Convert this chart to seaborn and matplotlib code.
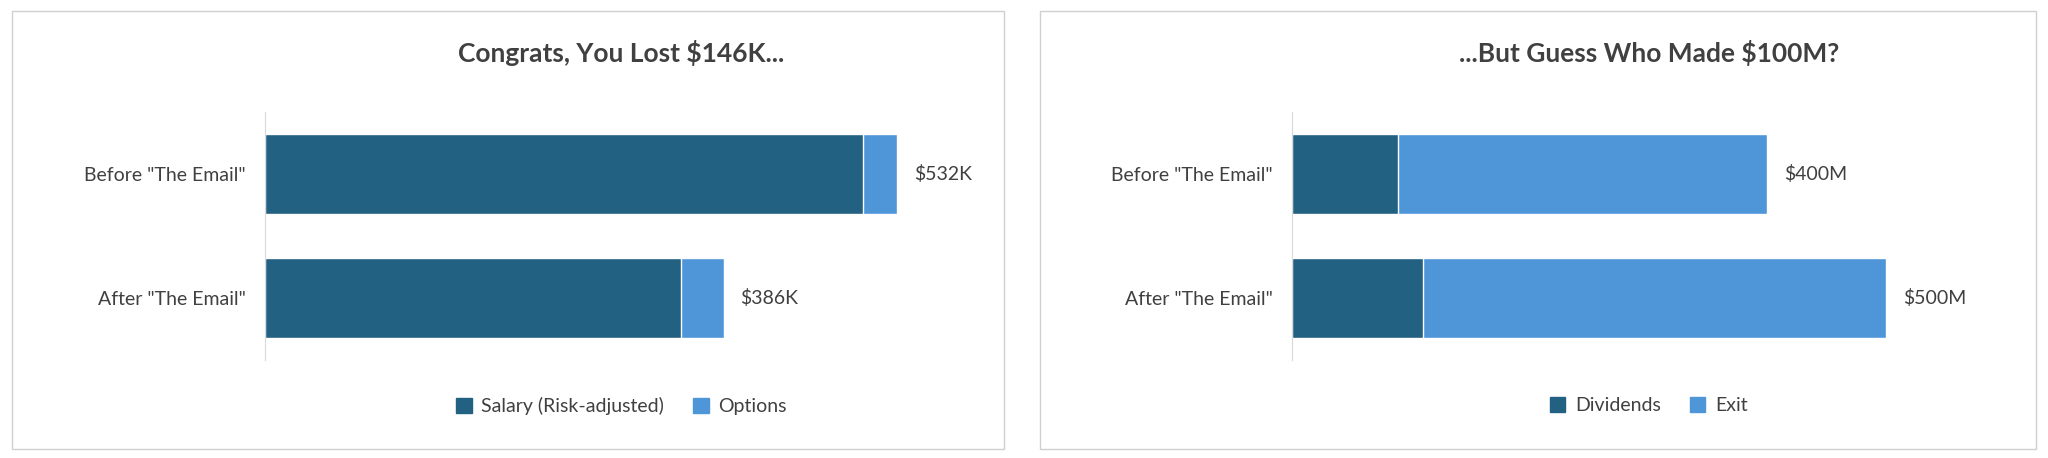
import matplotlib
matplotlib.use('Agg')
import matplotlib.pyplot as plt
import seaborn as sns
import pandas as pd
from matplotlib.patches import Rectangle, Patch

sns.set_style('white')
plt.rcParams['font.family'] = ['Lato', 'DejaVu Sans']

categories = ['Before "The Email"', 'After "The Email"']
salary = [503, 350]
options = [29, 36]
dividends = [89, 110]
exit_vals = [311, 390]

DARK = '#236182'
LIGHT = '#4F96D9'
TXT = '#404040'

fig = plt.figure(figsize=(20.48, 4.58), dpi=100)
for x0, w in [(0.006, 0.484), (0.508, 0.486)]:
    fig.patches.append(Rectangle((x0, 0.02), w, 0.955, transform=fig.transFigure,
                                 fill=False, edgecolor='#d0d0d0', lw=1))


def panel(left, base, top, base_name, top_name, title, unit):
    ax = fig.add_axes([left, 0.215, 0.348, 0.54])
    df = pd.DataFrame({'cat': categories, 'base': base,
                       'total': [a + b for a, b in zip(base, top)]})
    sns.barplot(data=df, y='cat', x='total', color=LIGHT, width=0.65, ax=ax, saturation=1)
    sns.barplot(data=df, y='cat', x='base', color=DARK, width=0.65, ax=ax, saturation=1)
    ax.set_xlim(0, 600)
    ax.set_xticks([])
    ax.set_xlabel('')
    ax.set_ylabel('')
    for s in ['top', 'right', 'bottom']:
        ax.spines[s].set_visible(False)
    ax.spines['left'].set_color('#d9d9d9')
    ax.tick_params(axis='y', length=0, labelsize=14, labelcolor=TXT, pad=14)
    for i, t in enumerate(df['total']):
        ax.text(t + 14, i, f'${t}{unit}', va='center', ha='left', fontsize=14, color=TXT)
    ax.set_title(title, fontsize=19, fontweight='bold', color=TXT, pad=36)
    ax.legend(handles=[Patch(color=DARK, label=base_name), Patch(color=LIGHT, label=top_name)],
              loc='upper center', bbox_to_anchor=(0.5, -0.08), ncol=2, frameon=False,
              fontsize=14, labelcolor=TXT, handlelength=0.8, handleheight=0.8,
              columnspacing=1.5, handletextpad=0.5)
    return ax


panel(0.1295, salary, options, 'Salary (Risk-adjusted)', 'Options',
      'Congrats, You Lost $146K...', 'K')
panel(0.631, dividends, exit_vals, 'Dividends', 'Exit',
      '...But Guess Who Made $100M?', 'M')

fig.savefig('out.png', dpi=100)
